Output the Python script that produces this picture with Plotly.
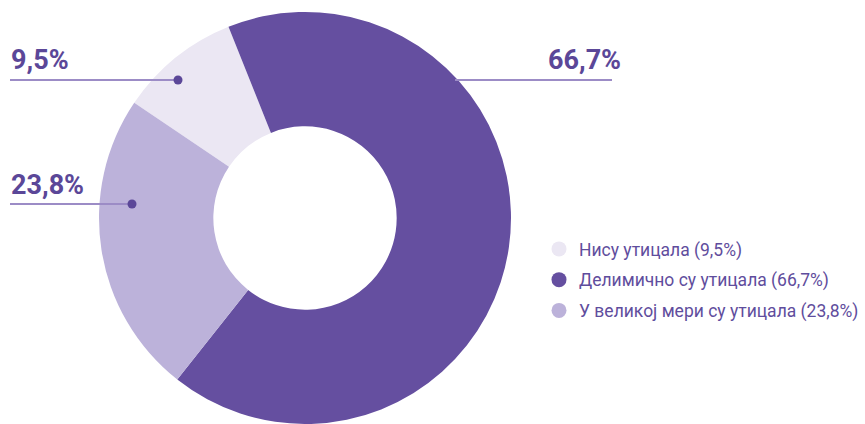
import plotly.graph_objects as go

# Shares of respondents by answer
categories = ["Нису утицала", "Делимично су утицала", "У великој мери су утицала"]
values = [9.5, 66.7, 23.8]
colors = ["#ebe7f3", "#654fa0", "#bcb2da"]

W, H = 865, 424
LABEL_COLOR = "#5b4798"
LINE_COLOR = "#9c8cc6"
FONT = "Roboto, Arial, sans-serif"


def fmt(v):
    return f"{v:.1f}".replace(".", ",") + "%"


fig = go.Figure()

fig.add_trace(go.Pie(
    labels=categories,
    values=values,
    marker=dict(colors=colors, line=dict(width=0)),
    hole=0.445,
    sort=False,
    direction="clockwise",
    rotation=-56,
    textinfo="none",
    hoverinfo="label+percent",
    showlegend=False,
    domain=dict(x=[99 / W, 511 / W], y=[0, 1 - 12 / H]),
))

# Legend entries with round swatches
for i, (cat, val, col) in enumerate(zip(categories, values, colors)):
    fig.add_trace(go.Scatter(
        x=[None], y=[None], mode="markers",
        marker=dict(size=15, color=col, symbol="circle"),
        name=f"{cat} ({fmt(val)})",
        legendgroup=f"g{i}",
        showlegend=True,
    ))

# Outside value labels with leader lines (pixel positions in the page)
callouts = [
    # value index, text x, text y, line x0, line x1, line y, dot
    (0, 9, 60, 10, 178, 80, True),
    (1, 623, 60, 455, 612, 80, False),
    (2, 9, 185, 10, 132, 204, True),
]

shapes = []
annotations = []
for idx, tx, ty, lx0, lx1, ly, dot in callouts:
    shapes.append(dict(
        type="line", xref="paper", yref="paper",
        x0=lx0 / W, x1=lx1 / W, y0=1 - ly / H, y1=1 - ly / H,
        line=dict(color=LINE_COLOR, width=2),
    ))
    if dot:
        r = 4.5
        shapes.append(dict(
            type="circle", xref="paper", yref="paper",
            x0=(lx1 - r) / W, x1=(lx1 + r) / W,
            y0=1 - (ly + r) / H, y1=1 - (ly - r) / H,
            fillcolor=LABEL_COLOR, line=dict(width=0),
        ))
    annotations.append(dict(
        xref="paper", yref="paper",
        x=tx / W, y=1 - ty / H,
        xanchor="left" if tx < 300 else "right", yanchor="middle",
        text=f"<b>{fmt(values[idx])}</b>",
        showarrow=False,
        font=dict(family=FONT, size=27, color=LABEL_COLOR),
    ))

fig.update_layout(
    width=W, height=H,
    margin=dict(l=0, r=0, t=0, b=0),
    paper_bgcolor="white",
    plot_bgcolor="white",
    xaxis=dict(visible=False),
    yaxis=dict(visible=False),
    shapes=shapes,
    annotations=annotations,
    legend=dict(
        x=539 / W, y=1 - 231 / H, xanchor="left", yanchor="top",
        font=dict(family=FONT, size=17.5, color="#5f4d9d"),
        tracegroupgap=5,
        itemwidth=30,
        bgcolor="rgba(0,0,0,0)",
    ),
)

fig.write_html("out.html")
